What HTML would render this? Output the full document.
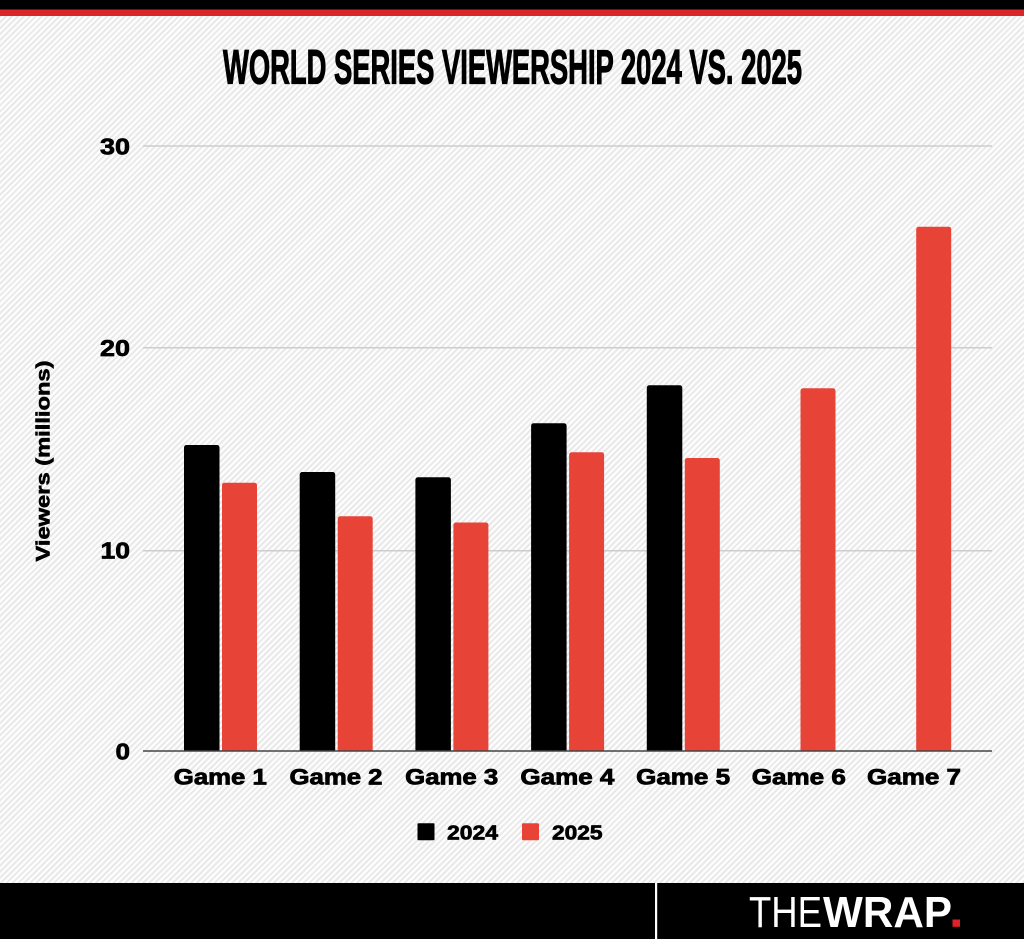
<!DOCTYPE html>
<html>
<head>
<meta charset="utf-8">
<style>
  html, body { margin:0; padding:0; }
  body {
    width:1024px; height:939px; overflow:hidden; position:relative;
    background: repeating-linear-gradient(135deg, #fdfdfd 0px, #fdfdfd 2.2px, #e9e9e9 2.2px, #e9e9e9 4.2px);
    font-family: "Liberation Sans", Arial, sans-serif;
  }
  svg { position:absolute; left:0; top:0; }
</style>
</head>
<body>
<svg width="1024" height="939" viewBox="0 0 1024 939" xmlns="http://www.w3.org/2000/svg">
  <defs>
    <clipPath id="plot"><rect x="0" y="0" width="1024" height="750.7"/></clipPath>
  </defs>

  <!-- top bars -->
  <rect x="0" y="0" width="1024" height="9.5" fill="#000"/>
  <rect x="0" y="9.5" width="1024" height="6.5" fill="#d9262b"/>

  <!-- title -->
  <text x="223" y="83.5" font-family="'Liberation Sans Narrow','Liberation Sans',sans-serif" font-weight="bold" font-size="48" textLength="579" lengthAdjust="spacingAndGlyphs" fill="#000" stroke="#000" stroke-width="1.2">WORLD SERIES VIEWERSHIP 2024 VS. 2025</text>

  <!-- gridlines -->
  <g stroke="#cdcdcd" stroke-width="1.5">
    <line x1="143" y1="146" x2="992" y2="146"/>
    <line x1="143" y1="347.7" x2="992" y2="347.7"/>
    <line x1="143" y1="550.7" x2="992" y2="550.7"/>
  </g>

  <!-- y tick labels -->
  <g font-family="'Liberation Sans',sans-serif" font-weight="bold" font-size="23" fill="#000" stroke="#000" stroke-width="0.7" text-anchor="end">
    <text x="130" y="154.5" textLength="30" lengthAdjust="spacingAndGlyphs">30</text>
    <text x="130" y="356.2" textLength="30" lengthAdjust="spacingAndGlyphs">20</text>
    <text x="130" y="558.7" textLength="29.5" lengthAdjust="spacingAndGlyphs">10</text>
    <text x="130" y="759.5" textLength="14.5" lengthAdjust="spacingAndGlyphs">0</text>
  </g>

  <!-- y axis title -->
  <text transform="translate(49.5,461) rotate(-90)" text-anchor="middle" font-family="'Liberation Sans',sans-serif" font-weight="bold" font-size="19" textLength="201" lengthAdjust="spacingAndGlyphs" fill="#000" stroke="#000" stroke-width="0.6">Viewers (millions)</text>

  <!-- bars -->
  <g clip-path="url(#plot)">
    <!-- 2024 -->
    <g fill="#000">
      <rect x="184" y="445" width="35.5" height="320" rx="2.5"/>
      <rect x="299.7" y="472" width="35.5" height="300" rx="2.5"/>
      <rect x="415.4" y="477.3" width="35.5" height="300" rx="2.5"/>
      <rect x="531.1" y="423.3" width="35.5" height="340" rx="2.5"/>
      <rect x="646.8" y="385.3" width="35.5" height="380" rx="2.5"/>
    </g>
    <!-- 2025 -->
    <g fill="#e84337">
      <rect x="222" y="482.7" width="35" height="300" rx="2.5"/>
      <rect x="337.7" y="516.3" width="35" height="300" rx="2.5"/>
      <rect x="453.4" y="522.5" width="35" height="300" rx="2.5"/>
      <rect x="569.1" y="452.3" width="35" height="320" rx="2.5"/>
      <rect x="684.8" y="458" width="35" height="320" rx="2.5"/>
      <rect x="800.5" y="388.3" width="35" height="380" rx="2.5"/>
      <rect x="916.2" y="226.7" width="35" height="540" rx="2.5"/>
    </g>
  </g>

  <!-- x axis line -->
  <line x1="143" y1="751" x2="992" y2="751" stroke="#444" stroke-width="1.6"/>

  <!-- x labels -->
  <g font-family="'Liberation Sans',sans-serif" font-weight="bold" font-size="22" fill="#000" stroke="#000" stroke-width="0.8" text-anchor="middle">
    <text x="220.3" y="784.5" textLength="93" lengthAdjust="spacingAndGlyphs">Game 1</text>
    <text x="336" y="784.5" textLength="93" lengthAdjust="spacingAndGlyphs">Game 2</text>
    <text x="451.7" y="784.5" textLength="93" lengthAdjust="spacingAndGlyphs">Game 3</text>
    <text x="567.4" y="784.5" textLength="94" lengthAdjust="spacingAndGlyphs">Game 4</text>
    <text x="683.1" y="784.5" textLength="94" lengthAdjust="spacingAndGlyphs">Game 5</text>
    <text x="798.8" y="784.5" textLength="94" lengthAdjust="spacingAndGlyphs">Game 6</text>
    <text x="914" y="784.5" textLength="94" lengthAdjust="spacingAndGlyphs">Game 7</text>
  </g>

  <!-- legend -->
  <rect x="417.5" y="823.3" width="17" height="17" rx="1" fill="#000"/>
  <text x="447" y="839.5" font-family="'Liberation Sans',sans-serif" font-weight="bold" font-size="20" textLength="51" lengthAdjust="spacingAndGlyphs" fill="#000" stroke="#000" stroke-width="0.7">2024</text>
  <rect x="522" y="823.3" width="17" height="17" rx="1" fill="#e84337"/>
  <text x="552" y="839.5" font-family="'Liberation Sans',sans-serif" font-weight="bold" font-size="20" textLength="50.5" lengthAdjust="spacingAndGlyphs" fill="#000" stroke="#000" stroke-width="0.7">2025</text>

  <!-- footer -->
  <rect x="0" y="883" width="1024" height="56" fill="#000"/>
  <rect x="655" y="883" width="2.2" height="56" fill="#fff"/>
  <text x="749" y="926.8" font-family="'Liberation Sans',sans-serif" font-weight="normal" font-size="44" textLength="73" lengthAdjust="spacingAndGlyphs" fill="#fff">THE</text>
  <text x="823" y="926.8" font-family="'Liberation Sans',sans-serif" font-weight="bold" font-size="44" textLength="129" lengthAdjust="spacingAndGlyphs" fill="#fff">WRAP</text>
  <rect x="952.5" y="919.5" width="7.5" height="7.3" fill="#e0202a"/>
</svg>
</body>
</html>
